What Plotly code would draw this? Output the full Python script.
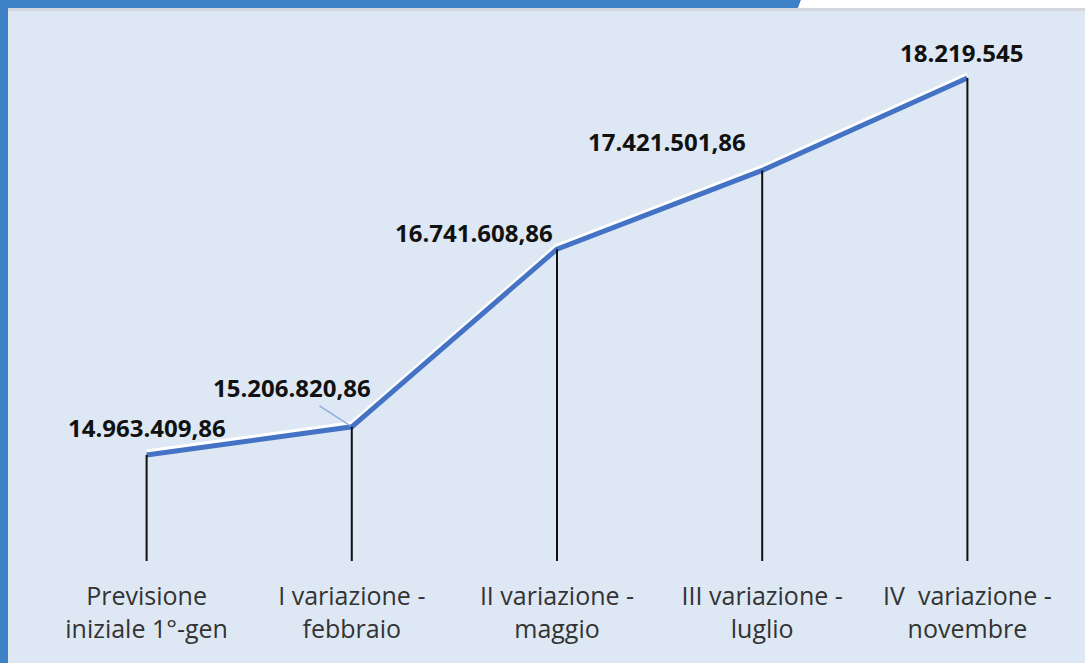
import plotly.graph_objects as go

# data
categories = [
    "Previsione<br>iniziale 1°-gen",
    "I variazione -<br>febbraio",
    "II variazione -<br>maggio",
    "III variazione -<br>luglio",
    "IV  variazione -<br>novembre",
]
values = [14963409.86, 15206820.86, 16741608.86, 17421501.86, 18219545]
value_labels = ["14.963.409,86", "15.206.820,86", "16.741.608,86", "17.421.501,86", "18.219.545"]

Y_RANGE = [14.048e6, 18.807e6]

# geometry of the 1085x663 canvas
WIDTH, HEIGHT = 1085, 663
L, R, T, B = 44, 15, 10, 102
PW, PH = WIDTH - L - R, HEIGHT - T - B
PX_PER_UNIT = PH / (Y_RANGE[1] - Y_RANGE[0])

BG = "#dde8f4"
FRAME_BLUE = "#3d82c6"
LINE_BLUE = "#4472c4"


def px(x):
    return (x - L) / PW


def py(y):
    return 1 - (y - T) / PH


xs = list(range(len(categories)))
shift = 3 / PX_PER_UNIT  # white highlight sits ~3px above the blue line

fig = go.Figure()

# white highlight under the line (primary axis shifted)
fig.add_trace(go.Scatter(
    x=xs, y=values, mode="lines", yaxis="y",
    line=dict(color="white", width=5), hoverinfo="skip", showlegend=False,
))
# main blue line
fig.add_trace(go.Scatter(
    x=xs, y=values, mode="lines", yaxis="y2",
    line=dict(color=LINE_BLUE, width=5), showlegend=False,
))
# drop lines to the axis
drop_x, drop_y = [], []
for x, v in zip(xs, values):
    drop_x += [x, x, None]
    drop_y += [v, Y_RANGE[0], None]
fig.add_trace(go.Scatter(
    x=drop_x, y=drop_y, mode="lines", yaxis="y2",
    line=dict(color="#111111", width=2), hoverinfo="skip", showlegend=False,
))

label_font = dict(family="Open Sans", size=24, color="#111111", weight="bold")
label_offsets = [(0, 28), (-60, 39), (-83, 17), (-95, 29), (-6, 26)]
for i, (x, v, txt, (dx, dy)) in enumerate(zip(xs, values, value_labels, label_offsets)):
    if i == 1:
        fig.add_annotation(
            x=x, y=v, xref="x", yref="y2", text=txt,
            showarrow=True, ax=dx, ay=-dy, arrowhead=0,
            arrowcolor="#8eafdc", arrowwidth=1.5, standoff=2, startstandoff=0,
            font=label_font,
        )
    else:
        fig.add_annotation(
            x=x, y=v, xref="x", yref="y2", text=txt, showarrow=False,
            xshift=dx, yshift=dy, font=label_font,
        )

shapes = [
    # left frame band
    dict(type="rect", x0=px(0), x1=px(8), y0=py(HEIGHT), y1=py(0),
         fillcolor=FRAME_BLUE, line_width=0),
    dict(type="rect", x0=px(8), x1=px(11), y0=py(HEIGHT), y1=py(8),
         fillcolor="#e3e6ea", line_width=0),
    # top frame band with slanted end
    dict(type="path",
         path=f"M {px(0)},{py(0)} L {px(801)},{py(0)} L {px(798)},{py(8)} L {px(0)},{py(8)} Z",
         fillcolor=FRAME_BLUE, line_width=0),
    dict(type="path",
         path=f"M {px(801)},{py(0)} L {px(WIDTH)},{py(0)} L {px(WIDTH)},{py(8)} L {px(798)},{py(8)} Z",
         fillcolor="white", line_width=0),
    dict(type="rect", x0=px(8), x1=px(WIDTH), y0=py(11), y1=py(8),
         fillcolor="#d3d8de", line_width=0),
]
for s in shapes:
    s.update(xref="paper", yref="paper", layer="above")

fig.update_layout(
    width=WIDTH, height=HEIGHT,
    margin=dict(l=L, r=R, t=T, b=B),
    paper_bgcolor=BG, plot_bgcolor=BG,
    shapes=shapes,
    xaxis=dict(
        tickmode="array", tickvals=xs, ticktext=categories,
        range=[-0.5, len(categories) - 0.5],
        showgrid=False, zeroline=False, showline=False,
        ticks="outside", ticklen=13, tickcolor="rgba(0,0,0,0)",
        tickfont=dict(family="Open Sans", size=25, color="#333333"),
    ),
    yaxis=dict(range=[Y_RANGE[0] - shift, Y_RANGE[1] - shift], visible=False, fixedrange=True),
    yaxis2=dict(range=Y_RANGE, overlaying="y", visible=False, fixedrange=True),
    showlegend=False,
)

fig.write_html(
    "out.html",
    config={"displayModeBar": False},
    post_script="document.body.style.margin='0';",
)
